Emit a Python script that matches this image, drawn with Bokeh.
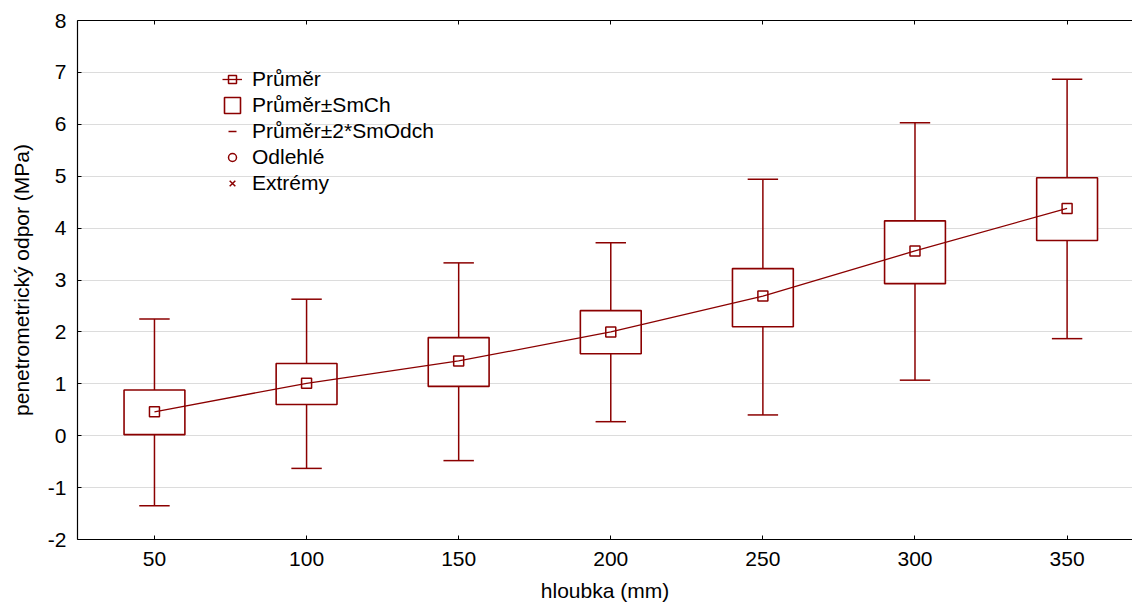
import math
from bokeh.plotting import figure
from bokeh.models import LinearAxis, FixedTicker, Legend, LegendItem, Range1d, ColumnDataSource
from bokeh.embed import file_html
from bokeh.resources import INLINE

# ---- data ----
depth = [50, 100, 150, 200, 250, 300, 350]          # hloubka (mm)
mean = [0.46, 1.01, 1.44, 2.00, 2.69, 3.56, 4.38]   # Průměr
box_lo = [0.02, 0.60, 0.95, 1.58, 2.10, 2.93, 3.76] # Průměr - SmCh
box_hi = [0.88, 1.39, 1.89, 2.41, 3.22, 4.14, 4.97] # Průměr + SmCh
wh_lo = [-1.35, -0.63, -0.48, 0.27, 0.40, 1.07, 1.87]  # Průměr - 2*SmOdch
wh_hi = [2.25, 2.63, 3.33, 3.72, 4.94, 6.03, 6.87]     # Průměr + 2*SmOdch
outliers_x = [float("nan")]   # no outliers in the data (legend only)
outliers_y = [float("nan")]
extremes_x = [float("nan")]   # no extremes in the data (legend only)
extremes_y = [float("nan")]
x_ticks = [50, 100, 150, 200, 250, 300, 350]
y_ticks = [-2, -1, 0, 1, 2, 3, 4, 5, 6, 7, 8]
legend_labels = ["Průměr", "Průměr±SmCh", "Průměr±2*SmOdch", "Odlehlé", "Extrémy"]

RED = "#8b0000"
FONT = "Liberation Sans"
FS = "21px"
BOX_W = 20
CAP_W = 10

p = figure(width=1132, height=613, output_backend="svg", toolbar_location=None,
           x_range=Range1d(24.7, 371.5), y_range=Range1d(-2, 8),
           min_border_left=77, min_border_right=0, min_border_top=20,
           min_border_bottom=74)
p.outline_line_color = None
p.background_fill_color = "white"
p.xgrid.grid_line_color = None
p.ygrid.grid_line_color = "#dcdcdc"
p.ygrid.grid_line_width = 1
p.ygrid.ticker = FixedTicker(ticks=y_ticks)

for ax in (p.xaxis[0], p.yaxis[0]):
    ax.major_tick_in = 4
    ax.major_tick_out = 0
    ax.minor_tick_line_color = None
    ax.axis_line_color = "black"
    ax.axis_line_width = 1.2
    ax.major_tick_line_color = "black"
    ax.major_label_text_font = FONT
    ax.major_label_text_font_size = FS
    ax.major_label_text_color = "black"
    ax.axis_label_text_font = FONT
    ax.axis_label_text_font_size = FS
    ax.axis_label_text_font_style = "normal"
    ax.axis_label_text_color = "black"

p.xaxis[0].ticker = FixedTicker(ticks=x_ticks)
p.yaxis[0].ticker = FixedTicker(ticks=y_ticks)
p.yaxis[0].major_label_overrides = {t: str(t) for t in y_ticks}
p.xaxis[0].axis_label = "hloubka (mm)"
p.yaxis[0].axis_label = "penetrometrický odpor (MPa)"
p.xaxis[0].major_label_standoff = 12
p.xaxis[0].axis_label_standoff = 10
p.yaxis[0].major_label_standoff = 11
p.yaxis[0].axis_label_standoff = 12

top = LinearAxis(ticker=FixedTicker(ticks=x_ticks))
top.major_tick_in = 4
top.major_tick_out = 0
top.minor_tick_line_color = None
top.axis_line_color = "black"
top.axis_line_width = 1.2
top.major_label_text_font_size = "1px"
top.major_label_text_alpha = 0
top.major_label_standoff = 0
p.add_layout(top, "above")

# whiskers (stems + caps)
p.segment(x0=depth, y0=box_hi, x1=depth, y1=wh_hi, line_color=RED, line_width=1.5)
p.segment(x0=depth, y0=wh_lo, x1=depth, y1=box_lo, line_color=RED, line_width=1.5)
p.segment(x0=[d - CAP_W / 2 for d in depth], y0=wh_hi,
          x1=[d + CAP_W / 2 for d in depth], y1=wh_hi, line_color=RED, line_width=1.5)
p.segment(x0=[d - CAP_W / 2 for d in depth], y0=wh_lo,
          x1=[d + CAP_W / 2 for d in depth], y1=wh_lo, line_color=RED, line_width=1.5)

# boxes
boxes = p.vbar(x=depth, width=BOX_W, bottom=box_lo, top=box_hi,
               fill_color="white", line_color=RED, line_width=1.6)

# mean line + markers
mean_line = p.line(depth, mean, line_color=RED, line_width=1.3)
mean_pts = p.scatter(depth, mean, marker="square", size=10, fill_color=None,
                     line_color=RED, line_width=1.5)

# legend symbols for whiskers, outliers, extremes
wh_leg = p.scatter(x=outliers_x, y=outliers_y, marker="dash", angle=math.pi / 2, size=20,
                   line_color=RED, line_width=1.5)
out_leg = p.scatter(x=outliers_x, y=outliers_y, marker="circle", size=8, fill_color=None,
                    line_color=RED, line_width=1.5)
ext_leg = p.scatter(x=extremes_x, y=extremes_y, marker="x", size=9, line_color=RED,
                    line_width=1.5)

items = [
    LegendItem(label=legend_labels[0], renderers=[mean_line, mean_pts]),
    LegendItem(label=legend_labels[1], renderers=[boxes]),
    LegendItem(label=legend_labels[2], renderers=[wh_leg]),
    LegendItem(label=legend_labels[3], renderers=[out_leg]),
    LegendItem(label=legend_labels[4], renderers=[ext_leg]),
]
legend = Legend(items=items, location=(145, 344), padding=0, margin=0,
                spacing=2, glyph_width=20, glyph_height=20, label_height=20,
                label_standoff=10, label_text_font=FONT, label_text_font_size=FS,
                label_text_color="black", border_line_color=None,
                background_fill_alpha=0)
p.add_layout(legend, "center")

open("out.html", "w").write(file_html(p, INLINE))
